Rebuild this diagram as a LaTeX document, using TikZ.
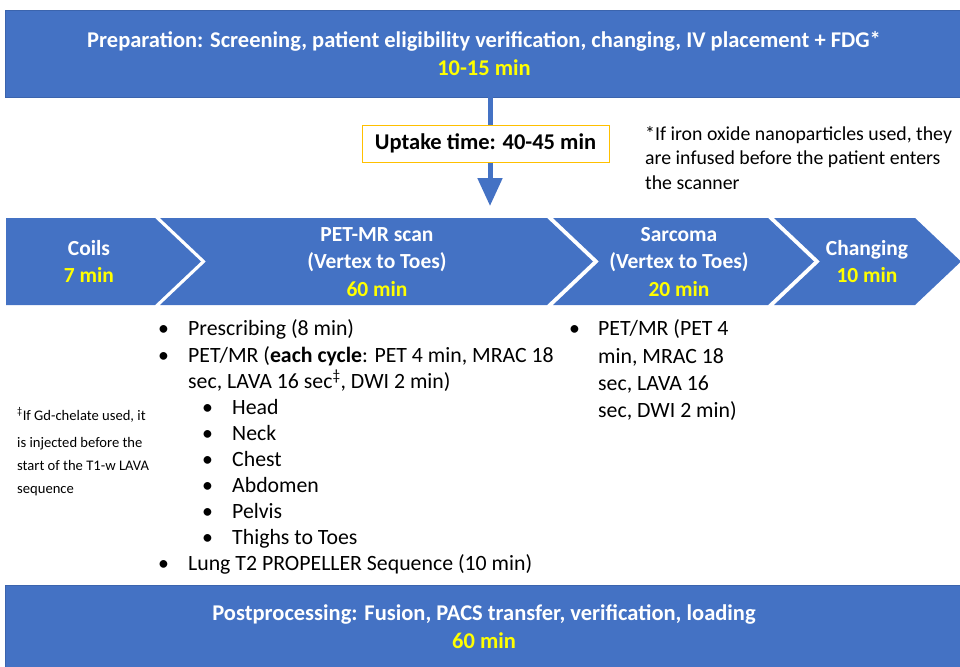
\documentclass[tikz,border=0pt]{standalone}
\usepackage{fontspec}
\setmainfont{Carlito}
\usetikzlibrary{arrows.meta}
\definecolor{obl}{HTML}{4472C4}
\definecolor{oyl}{HTML}{FFFF00}
\definecolor{ogold}{HTML}{FFC000}
\definecolor{oedge}{HTML}{3B64AD}
\begin{document}
\begin{tikzpicture}[x=1pt,y=-1pt,
  banner/.style={fill=obl, draw=oedge, line width=0.6pt, text=white, align=center, inner sep=0pt,
    font=\bfseries\fontsize{22.5}{28}\selectfont},
  chevron/.style={fill=obl},
  chevtext/.style={text=white, align=center, font=\bfseries\fontsize{21.5}{27.5}\selectfont},
  bul/.style={anchor=base west, inner sep=0pt, font=\fontsize{21.8}{26}\selectfont},
  note/.style={anchor=base west, inner sep=0pt, font=\fontsize{19.8}{24}\selectfont},
  smallnote/.style={anchor=base west, inner sep=0pt, font=\fontsize{14.6}{24}\selectfont},
  flow/.style={draw=obl, line width=5pt}]
\useasboundingbox (0,0) rectangle (960,666);

% top banner
\node[banner, minimum width=958pt, minimum height=87pt] (prep) at (484,53.5)
  {Preparation: Screening, patient eligibility verification, changing, IV placement + FDG*\\
   \textcolor{oyl}{10-15 min}};

% uptake box and arrow
\node[draw=ogold, line width=1pt, fill=white, minimum width=247pt, minimum height=37pt,
  inner sep=0pt, font=\bfseries\fontsize{22.5}{24}\selectfont] (uptake) at (485.5,143.5)
  {Uptake time: 40-45 min};
\coordinate (ax) at (490,0);
\coordinate (atip) at (490,206);
\draw[flow] (prep.south -| ax) -- (uptake.north -| ax);
\draw[flow, -{Triangle[length=28pt,width=24pt]}] (uptake.south -| ax) -- (atip);

% footnote right
\node[note] (fn1) at (645,140) {*If iron oxide nanoparticles used, they};
\node[note] (fn2) at (645,164.5) {are infused before the patient enters};
\node[note] (fn3) at (645,189) {the scanner};

% chevrons
\fill[chevron] (6,218) -- (155,218) -- (201,261.5) -- (155,305) -- (6,305) -- cycle;
\fill[chevron] (160,218) -- (547,218) -- (593,261.5) -- (547,305) -- (160,305) -- (206,261.5) -- cycle;
\fill[chevron] (553,218) -- (768,218) -- (814,261.5) -- (768,305) -- (553,305) -- (599,261.5) -- cycle;
\fill[chevron] (774,218) -- (915,218) -- (961,261.5) -- (915,305) -- (774,305) -- (820,261.5) -- cycle;

\node[chevtext] (coils) at (89,261.5) {Coils\\ \textcolor{oyl}{7 min}};
\node[chevtext] (petmr) at (377,262) {PET-MR scan\\(Vertex to Toes)\\ \textcolor{oyl}{60 min}};
\node[chevtext] (sarcoma) at (679,262) {Sarcoma\\(Vertex to Toes)\\ \textcolor{oyl}{20 min}};
\node[chevtext] (changing) at (867,261.5) {Changing\\ \textcolor{oyl}{10 min}};

% PET-MR list
\foreach \y/\t [count=\i] in {335/{Prescribing (8 min)},
    362/{PET/MR (\textbf{each cycle}: PET 4 min, MRAC 18},
    570/{Lung T2 PROPELLER Sequence (10 min)}}{
  \node[bul] (pb\i) at (158,\y) {•};
  \node[bul] (pt\i) at (188,\y) {\t};
}
\node[bul] (pt2b) at (188,388) {sec, LAVA 16 sec\textsuperscript{‡}, DWI 2 min)};
\foreach \y/\t [count=\i] in {414/Head, 440/Neck, 466/Chest, 492/Abdomen, 518/Pelvis, 544/{Thighs to Toes}}{
  \node[bul] (sb\i) at (202,\y) {•};
  \node[bul] (st\i) at (232,\y) {\t};
}

% Sarcoma list
\node[bul] (qb) at (569,335) {•};
\node[bul] (q1) at (598,335) {PET/MR (PET 4};
\node[bul] (q2) at (598,363) {min, MRAC 18};
\node[bul] (q3) at (598,390) {sec, LAVA 16};
\node[bul] (q4) at (598,417) {sec, DWI 2 min)};

% left note
\node[smallnote] (ln1) at (17,420) {\textsuperscript{‡}If Gd-chelate used, it};
\node[smallnote] (ln2) at (17,447) {is injected before the};
\node[smallnote] (ln3) at (17,470) {start of the T1-w LAVA};
\node[smallnote] (ln4) at (17,493) {sequence};

% bottom banner
\node[banner, minimum width=958pt, minimum height=84pt] (post) at (484,627)
  {Postprocessing: Fusion, PACS transfer, verification, loading\\
   \textcolor{oyl}{60 min}};
\end{tikzpicture}
\end{document}
